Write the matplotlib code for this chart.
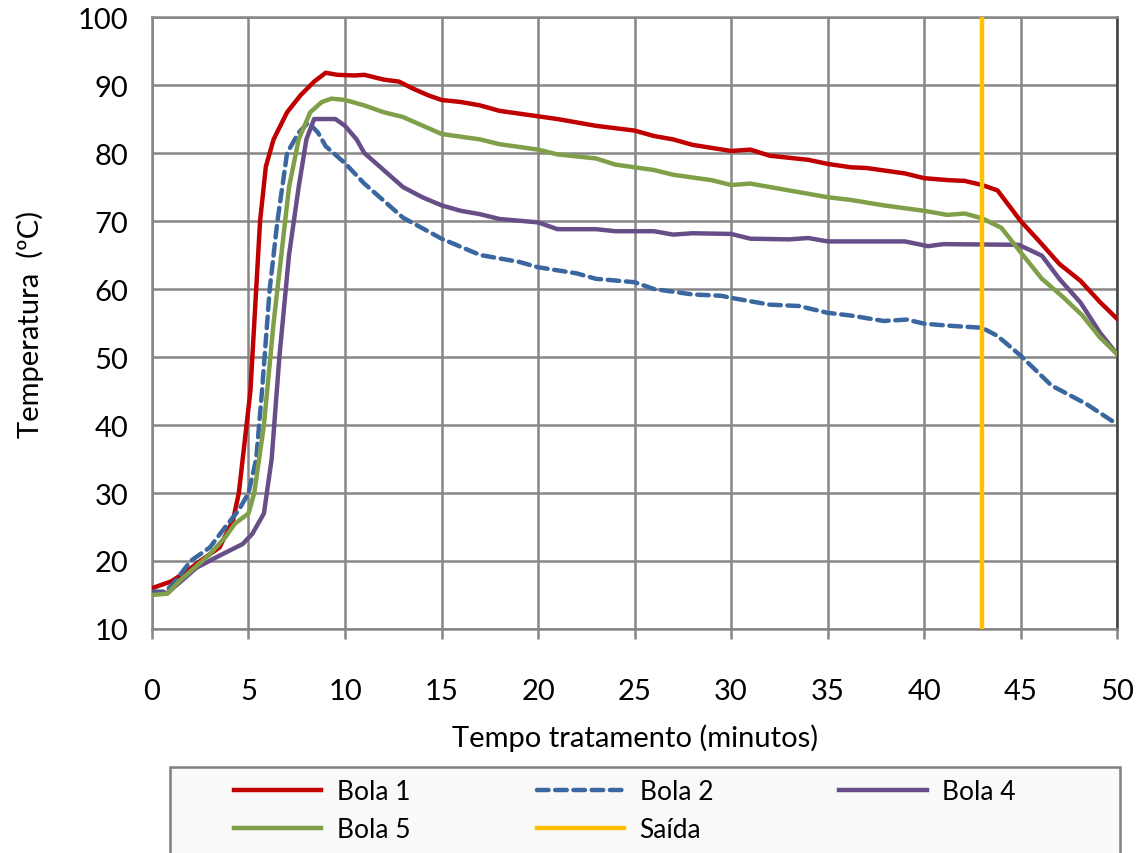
import numpy as np
import matplotlib
matplotlib.use('Agg')
import matplotlib.pyplot as plt
from matplotlib.patches import Rectangle

plt.rcParams['font.family'] = ['Lato', 'DejaVu Sans']

# Bola 1
t1 = [0, 1, 1.8, 2.5, 3.5, 4.2, 4.5, 4.9, 5.1, 5.4, 5.6, 5.9, 6.3, 7, 7.7, 8.4, 9, 9.6,
      10.5, 11, 12, 12.8, 13.5, 14.3, 15, 16, 17, 18, 20, 21, 23, 25, 26, 27, 28, 30, 31,
      32, 34, 35, 36.2, 37, 39, 40, 41.3, 42.1, 43, 43.8, 45, 46, 47, 48.1, 49.1, 50]
b1 = [16, 17, 18.5, 20, 22, 26, 30, 40, 45, 60, 70, 78, 82, 86, 88.5, 90.5, 91.8, 91.5,
      91.4, 91.5, 90.8, 90.5, 89.5, 88.5, 87.8, 87.5, 87, 86.2, 85.4, 85, 84, 83.3, 82.5, 82,
      81.2, 80.3, 80.5, 79.6, 79, 78.4, 77.9, 77.8, 77, 76.3, 76, 75.9, 75.3, 74.5, 70, 66.9,
      63.7, 61.2, 58.1, 55.6]

# Bola 2
t2 = [0, 0.7, 1.2, 2, 3, 3.8, 4.5, 5, 5.4, 5.7, 6.1, 6.5, 7, 7.6, 8.1, 8.6, 9, 10, 11,
      12, 13, 15, 17, 19, 20, 22, 23, 25, 26, 28, 29.5, 30, 32, 33.5, 35, 36.2, 37.9, 39.1,
      40, 41.3, 43, 43.8, 45, 46.6, 48.4, 50]
b2 = [15.5, 15.5, 17, 20, 22, 25, 27.5, 30, 35, 45, 60, 70, 80, 83, 84.5, 83, 81, 78.5,
      75.5, 73, 70.5, 67.4, 65, 64, 63.2, 62.3, 61.5, 61, 60, 59.2, 59, 58.7, 57.7, 57.5,
      56.5, 56.1, 55.3, 55.5, 54.9, 54.6, 54.3, 53.1, 50.2, 45.8, 43.1, 40.1]

# Bola 4
t4 = [0, 0.8, 1.5, 2.3, 3.3, 4, 4.7, 5.2, 5.8, 6.2, 6.6, 7.1, 7.6, 8, 8.4, 9, 9.5, 10,
      10.6, 11, 12, 13, 14, 15, 16, 17, 18, 20, 21, 23, 24, 26, 27, 28, 30, 31, 33, 34, 35,
      39, 40.2, 41, 44.9, 46.1, 47, 48.1, 49.1, 50]
b4 = [15.3, 15.3, 17, 19, 20.5, 21.5, 22.5, 24, 27, 35, 50, 65, 75, 82, 85, 85, 85, 84,
      82, 80, 77.5, 75, 73.5, 72.3, 71.5, 71, 70.3, 69.8, 68.8, 68.8, 68.5, 68.5, 68, 68.2,
      68.1, 67.4, 67.3, 67.5, 67, 67, 66.3, 66.6, 66.5, 64.9, 61.5, 58, 53.6, 50.4]

# Bola 5
t5 = [0, 0.8, 1.4, 2.2, 3, 3.8, 4.3, 5, 5.3, 5.8, 6.3, 6.7, 7.1, 7.6, 8.2, 8.8, 9.3, 10,
      11, 12, 13, 15, 17, 18, 20, 21, 23, 24, 26, 27, 29, 30, 31, 32, 34, 35, 36.2, 37.9,
      40, 41.2, 42.1, 43, 44, 45, 46.1, 47.2, 48.2, 49.1, 50]
b5 = [15, 15.2, 17, 19, 21, 23.5, 25.5, 27, 30, 40, 55, 65, 75, 82, 86, 87.5, 88, 87.8,
      87, 86, 85.3, 82.8, 82, 81.3, 80.5, 79.8, 79.2, 78.3, 77.5, 76.8, 76, 75.3, 75.5, 75,
      74, 73.5, 73.1, 72.3, 71.5, 70.9, 71.1, 70.4, 69, 65.4, 61.5, 58.8, 56.1, 52.9, 50.4]

saida = 43

fig = plt.figure(figsize=(11.4, 8.54), dpi=100)
ax = fig.add_axes([0.1333, 0.2623, 0.8467, 0.7166])

lw = 3.2
l1, = ax.plot(t1, b1, color='#C00000', lw=lw, label='Bola 1', zorder=3)
l2, = ax.plot(t2, b2, color='#3A67A0', lw=lw, ls=(0, (2.6, 1.5)), dash_capstyle='round',
              label='Bola 2', zorder=3)
l4, = ax.plot(t4, b4, color='#674E89', lw=lw, label='Bola 4', zorder=3)
l5, = ax.plot(t5, b5, color='#7F9F48', lw=lw, label='Bola 5', zorder=3)
ls_ = ax.axvline(saida, color='#FFC000', lw=lw, label='Saída', zorder=3)

ax.set_xlim(0, 50)
ax.set_ylim(10, 100)
ax.set_xticks(np.arange(0, 51, 5))
ax.set_yticks(np.arange(10, 101, 10))
ax.grid(True, color='#868686', lw=1.8)
ax.set_axisbelow(True)
for s in ['left', 'bottom', 'top']:
    ax.spines[s].set_color('#868686')
    ax.spines[s].set_linewidth(1.8)
ax.spines['right'].set_color('#404040')
ax.spines['right'].set_linewidth(1.8)
ax.tick_params(axis='x', labelsize=21, color='#868686', width=1.8, length=7, pad=28)
ax.tick_params(axis='y', labelsize=21, length=0, pad=17)

ax.set_xlabel('Tempo tratamento (minutos)', fontsize=21, labelpad=14)
ax.set_ylabel('Temperatura  (ºC)', fontsize=21, labelpad=24)

# legend box
fig.patches.append(Rectangle((170 / 1140, -0.05), 950 / 1140, 0.05 + 86 / 854,
                             transform=fig.transFigure, facecolor='#F9F9F9',
                             edgecolor='#7F7F7F', lw=1.8, zorder=0))

# row-major order as in the original legend
handles = [l1, l5, l2, ls_, l4]
labels = [h.get_label() for h in handles]
leg = fig.legend(handles, labels, loc='upper left',
                 bbox_to_anchor=(234 / 1140, 1 - 780 / 854, 782 / 1140, 0.0),
                 ncol=3, mode='expand', fontsize=19, frameon=False,
                 handlelength=3.3, handletextpad=0.6, borderpad=0, labelspacing=0.5,
                 borderaxespad=0)

plt.savefig('out.png', dpi=100)
